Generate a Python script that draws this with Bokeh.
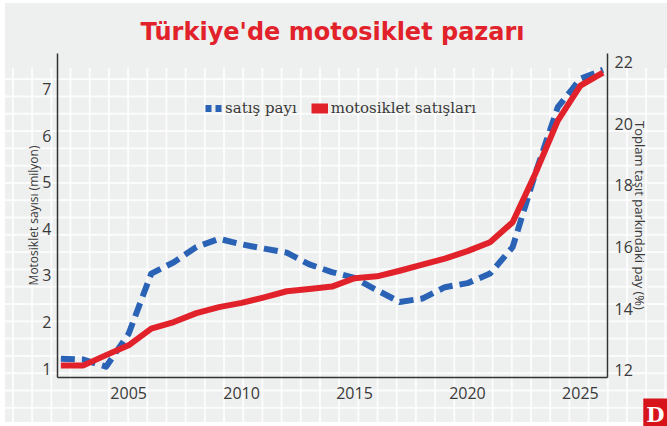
from bokeh.plotting import figure
from bokeh.models import (Range1d, LinearAxis, FixedTicker, Legend, LegendItem,
                          ColumnDataSource, Title)
from bokeh.embed import file_html
from bokeh.resources import INLINE

# ---- data ----
years = list(range(2002, 2027))
# motorcycle sales, million (left axis)
sales_mil = [1.07, 1.07, 1.29, 1.50, 1.86, 2.00, 2.19, 2.32, 2.41, 2.53, 2.66, 2.71, 2.76,
             2.94, 2.98, 3.10, 3.23, 3.36, 3.52, 3.71, 4.14, 5.18, 6.32, 7.07, 7.35]
# share in total vehicle park, % (right axis)
share_pct = [12.38, 12.35, 12.12, 13.19, 15.14, 15.51, 16.00, 16.27, 16.09, 15.95, 15.82, 15.44, 15.19,
             15.00, 14.60, 14.22, 14.33, 14.70, 14.83, 15.14, 16.00, 18.38, 20.54, 21.46, 21.75]
x_ticks = [2005, 2010, 2015, 2020, 2025]
left_ticks = [1, 2, 3, 4, 5, 6, 7]
right_ticks = [12, 14, 16, 18, 20, 22]

title_text = "Türkiye'de motosiklet pazarı"
left_label = "Motosiklet sayısı (milyon)"
right_label = "Toplam taşıt parkındaki pay (%)"
legend_share = "satış payı"
legend_sales = "motosiklet satışları"
logo_text = "D"

RED = "#e2222a"
BLUE = "#2a62b6"
TXT = "#3a3a3a"
FONT = "Open Sans"
NAN = float("nan")

src = ColumnDataSource(dict(year=years, sales=sales_mil, share=share_pct))

p = figure(width=667, height=426, output_backend="svg", toolbar_location=None,
           x_range=Range1d(2001.85, 2026.2), y_range=Range1d(0.81, 7.76),
           min_border_left=57, min_border_right=60, min_border_top=53, min_border_bottom=49,
           background_fill_color=None, border_fill_color=None, outline_line_color=None)

W = "linear-gradient(#ffffff, #ffffff)"
G = "linear-gradient(#eeefef, #eeefef)"
p.styles = {
    "background-color": "#eeefef",
    "background-image": ", ".join([
        W, W, W, G,
        "linear-gradient(to right, rgba(255,255,255,0.8) 1.5px, transparent 1.5px)",
        "linear-gradient(to bottom, rgba(255,255,255,0.8) 1.5px, transparent 1.5px)"]),
    "background-size": "5px 100%, 100% 3px, 100% 4px, 100% 68px, 19.2px 17.3px, 19.2px 17.3px",
    "background-repeat": "no-repeat, no-repeat, no-repeat, no-repeat, repeat, repeat",
    "background-position": "0 0, 0 0, 0 100%, 0 0, 12px 9px, 12px 9px",
}

p.title.text = title_text
p.title.align = "center"
p.title.text_color = RED
p.title.text_font = "DejaVu Sans"
p.title.text_font_style = "bold"
p.title.text_font_size = "24px"
p.title.standoff = 15

p.xgrid.visible = False
p.ygrid.visible = False

p.extra_y_ranges = {"pct": Range1d(11.77, 22.28)}

def style_axis(ax, standoff):
    ax.axis_line_color = "#333333"
    ax.axis_line_width = 1.5
    ax.major_tick_line_color = None
    ax.minor_tick_line_color = None
    ax.major_label_text_font = FONT
    ax.major_label_text_font_size = "16px"
    ax.major_label_text_color = TXT
    ax.major_label_standoff = standoff
    ax.axis_label_text_font = FONT
    ax.axis_label_text_font_size = "13px"
    ax.axis_label_text_font_style = "normal"
    ax.axis_label_text_color = TXT

xa = p.xaxis[0]
xa.ticker = FixedTicker(ticks=x_ticks)
style_axis(xa, 3)

ya = p.yaxis[0]
ya.ticker = FixedTicker(ticks=left_ticks)
ya.axis_label = left_label
style_axis(ya, 0)
ya.axis_label_text_font_size = "12px"
ya.axis_label_standoff = -3

ra = LinearAxis(y_range_name="pct", ticker=FixedTicker(ticks=right_ticks), axis_label=right_label)
style_axis(ra, 1)
ra.axis_label_standoff = -5
p.add_layout(ra, "right")

r_share = p.line("year", "share", source=src, y_range_name="pct", line_color=BLUE,
                 line_width=6, line_dash="14 7", line_join="round")
r_sales = p.line("year", "sales", source=src, line_color=RED, line_width=6, line_join="round")

# legend swatches (nothing drawn in the plot; only shown in the legend)
sw_share = p.line([NAN], [NAN], line_color=BLUE, line_width=7, line_dash="6 4")
sw_sales = p.line([NAN], [NAN], line_color=RED, line_width=10)

legend = Legend(items=[LegendItem(label=legend_share, renderers=[sw_share]),
                       LegendItem(label=legend_sales, renderers=[sw_sales])],
                orientation="horizontal", location=(148, 260),
                background_fill_alpha=0, border_line_color=None,
                label_text_font="DejaVu Serif", label_text_font_size="15px",
                label_text_color=TXT, glyph_width=17, glyph_height=14,
                label_standoff=3, spacing=14, padding=0, margin=0)
p.add_layout(legend)

logo = Title(text=logo_text, align="right", offset=-60, standoff=-10,
             text_font="DejaVu Serif", text_font_style="bold", text_font_size="21px",
             text_color="white", background_fill_color="#d8141b", padding=3)
p.add_layout(logo, "below")

open("out.html", "w").write(file_html(p, INLINE))
